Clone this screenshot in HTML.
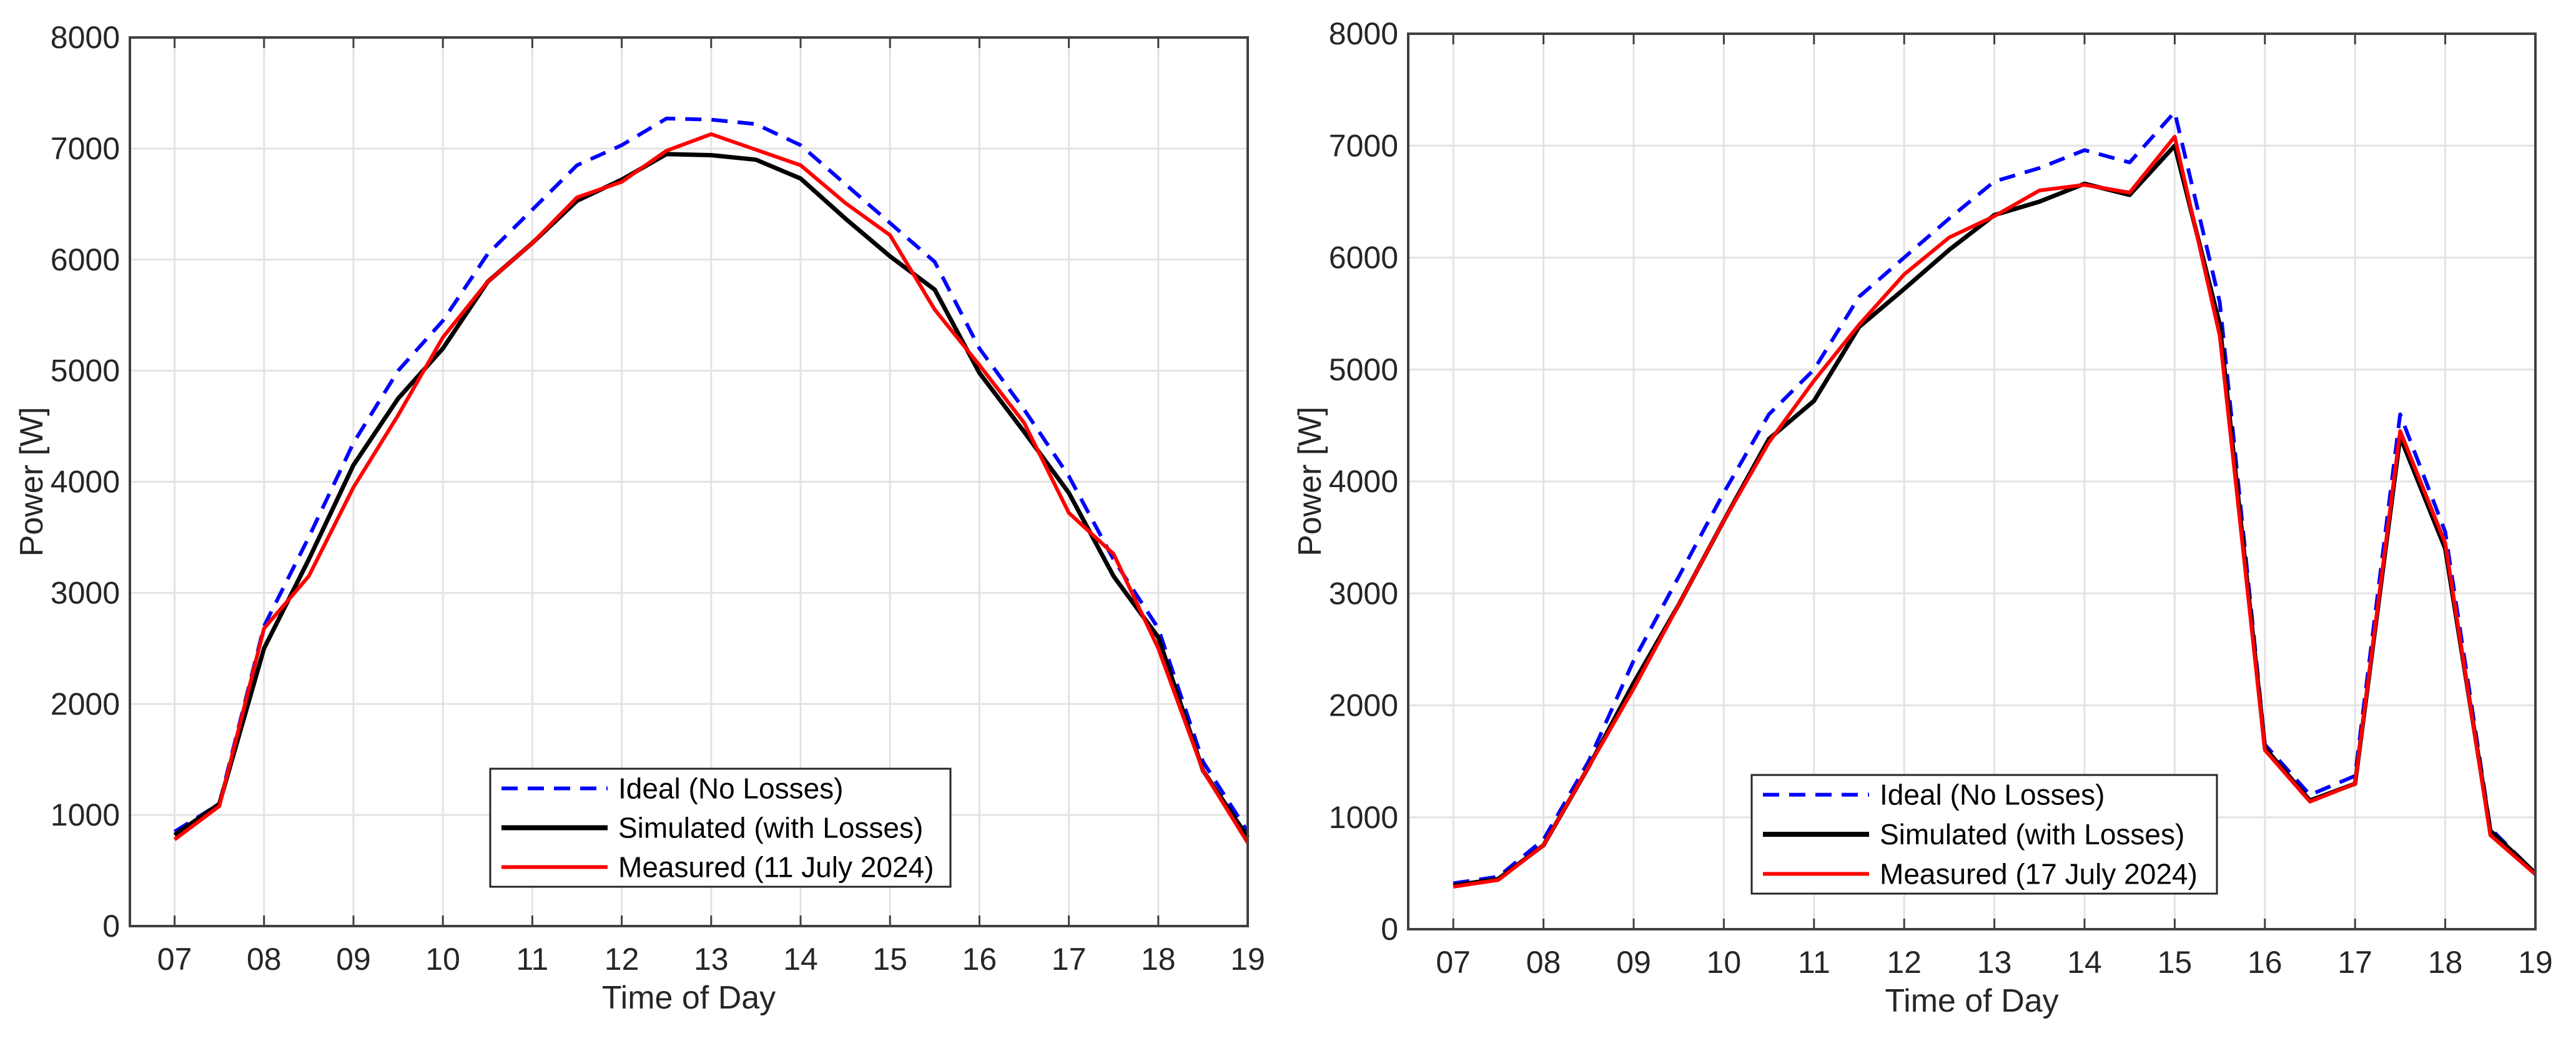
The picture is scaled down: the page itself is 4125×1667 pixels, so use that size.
<!DOCTYPE html>
<html><head><meta charset="utf-8"><style>
html,body{margin:0;padding:0;background:#fff;}
svg{display:block;font-family:"Liberation Sans",Arial,sans-serif;}
</style></head><body>
<svg id="fig" width="4125" height="1667" viewBox="0 0 4125 1667" xmlns="http://www.w3.org/2000/svg"></svg>
<script>
const hours = [7,7.5,8,8.5,9,9.5,10,10.5,11,11.5,12,12.5,13,13.5,14,14.5,15,15.5,16,16.5,17,17.5,18,18.5,19];
const xTickLabels = ["07","08","09","10","11","12","13","14","15","16","17","18","19"];
const yTickValues = [0,1000,2000,3000,4000,5000,6000,7000,8000];
const leftIdeal = [850,1100,2700,3500,4350,5000,5450,6050,6450,6850,7030,7270,7260,7220,7030,6680,6330,5980,5200,4650,4050,3300,2680,1480,850];
const leftSimulated = [820,1100,2500,3300,4150,4750,5200,5800,6150,6530,6720,6950,6940,6900,6730,6370,6030,5730,4980,4450,3900,3150,2600,1400,800];
const leftMeasured = [780,1080,2680,3150,3950,4600,5300,5800,6150,6560,6700,6980,7130,6990,6850,6510,6220,5550,5050,4530,3720,3350,2500,1400,750];
const rightIdeal = [410,470,800,1500,2400,3150,3900,4600,5000,5650,6000,6350,6680,6800,6960,6850,7300,5600,1650,1200,1370,4600,3550,900,500];
const rightSimulated = [390,450,750,1450,2200,2900,3650,4380,4720,5380,5720,6070,6380,6500,6660,6560,7000,5400,1620,1150,1300,4400,3400,880,500];
const rightMeasured = [380,440,750,1450,2150,2900,3650,4350,4900,5400,5850,6180,6370,6600,6650,6580,7080,5300,1600,1140,1300,4450,3450,840,490];
const leftLegend = ["Ideal (No Losses)","Simulated (with Losses)","Measured (11 July 2024)"];
const rightLegend = ["Ideal (No Losses)","Simulated (with Losses)","Measured (17 July 2024)"];

const NS="http://www.w3.org/2000/svg";
const svg=document.getElementById('fig');
function mk(tag,attrs,parent){const e=document.createElementNS(NS,tag);for(const k in attrs)e.setAttribute(k,attrs[k]);(parent||svg).appendChild(e);return e;}

function chart(prefix,box,ideal,sim,meas,legendLabels,leg){
  const g=mk('g',{});
  
  
  const xmin=6.5,xmax=19,ymin=0,ymax=8000;
  const X=v=>box.l+(v-xmin)/(xmax-xmin)*(box.r-box.l);
  const Y=v=>box.b-(v-ymin)/(ymax-ymin)*(box.b-box.t);
  xTickLabels.forEach(lbl=>{const v=parseInt(lbl,10);
    const gl=mk('line',{x1:X(v),x2:X(v),y1:box.t,y2:box.b,stroke:'#e3e3e3','stroke-width':3},g);
    
    
  });
  yTickValues.forEach(v=>{
    const gl=mk('line',{x1:box.l,x2:box.r,y1:Y(v),y2:Y(v),stroke:'#e3e3e3','stroke-width':3},g);
    
    
  });
  function series(vals,color,w,dash,name){
    const d=vals.map((v,i)=>(i?'L':'M')+X(hours[i]).toFixed(1)+','+Y(v).toFixed(1)).join(' ');
    const p=mk('path',{d:d,fill:'none',stroke:color,'stroke-width':w,'stroke-linejoin':'round'},g);
    if(dash)p.setAttribute('stroke-dasharray',dash);
    
    
  }
  series(ideal,'#0000ff',6,'26,16',prefix+'-ideal-line');
  series(sim,'#000000',7,null,prefix+'-simulated-line');
  series(meas,'#ff0000',6,null,prefix+'-measured-line');
  const ax=mk('rect',{x:box.l,y:box.t,width:box.r-box.l,height:box.b-box.t,fill:'none',stroke:'#404040','stroke-width':4},g);
  
  
  xTickLabels.forEach(lbl=>{const v=parseInt(lbl,10);
    mk('line',{x1:X(v),x2:X(v),y1:box.b,y2:box.b-17,stroke:'#404040','stroke-width':3},g);
    mk('line',{x1:X(v),x2:X(v),y1:box.t,y2:box.t+17,stroke:'#404040','stroke-width':3},g);
    const t=mk('text',{x:X(v),y:box.b+70,'font-size':50,fill:'#262626','text-anchor':'middle'},g);
    t.textContent=lbl;
    
    
  });
  yTickValues.forEach(v=>{
    const t=mk('text',{x:box.l-16,y:Y(v)+17,'font-size':50,fill:'#262626','text-anchor':'end'},g);
    t.textContent=String(v);
    
    
  });
  const xt=mk('text',{x:(box.l+box.r)/2,y:box.b+132,'font-size':52,fill:'#262626','text-anchor':'middle'},g);
  xt.textContent='Time of Day';
  
  
  const yx=box.l-140, yy=(box.t+box.b)/2;
  const yt=mk('text',{x:yx,y:yy,'font-size':52,fill:'#262626','text-anchor':'middle',transform:'rotate(-90 '+yx+' '+yy+')'},g);
  yt.textContent='Power [W]';
  
  
  const lg=mk('g',{},g);
  
  
  mk('rect',{x:leg.x,y:leg.y,width:leg.w,height:leg.h,fill:'#fff',stroke:'#262626','stroke-width':3},lg);
  const styles=[['#0000ff',6,'26,16'],['#000000',8,null],['#ff0000',6,null]];
  const rowH=leg.h/3;
  legendLabels.forEach((lbl,i)=>{
    const cy=leg.y+rowH*(i+0.5);
    const ln=mk('line',{x1:leg.x+18,x2:leg.x+188,y1:cy,y2:cy,stroke:styles[i][0],'stroke-width':styles[i][1]},lg);
    if(styles[i][2])ln.setAttribute('stroke-dasharray',styles[i][2]);
    const t=mk('text',{x:leg.x+205,y:cy+16,'font-size':46,fill:'#000'},lg);
    t.textContent=lbl;
    
    
  });
}
chart('left',{l:208,r:1998,t:60,b:1483},leftIdeal,leftSimulated,leftMeasured,leftLegend,{x:785,y:1231,w:737,h:189});
chart('right',{l:2255,r:4060,t:54,b:1488},rightIdeal,rightSimulated,rightMeasured,rightLegend,{x:2805,y:1241,w:745,h:190});
</script>
</body></html>
